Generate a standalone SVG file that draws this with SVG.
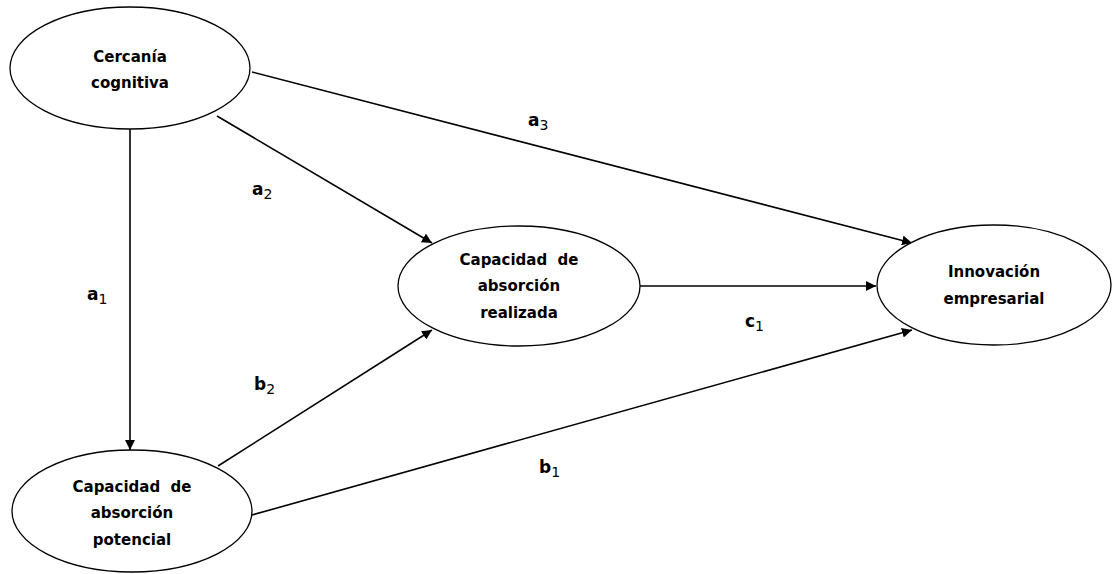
<svg xmlns="http://www.w3.org/2000/svg" width="1113" height="574" viewBox="0 0 1113 574">
<style>
.n{fill:#fff;stroke:#000;stroke-width:1.3}
.t{font-family:"DejaVu Sans",sans-serif;font-weight:bold;font-size:15px;fill:#000;text-anchor:middle;dominant-baseline:central}
.c{stroke:#000;stroke-width:1.6;fill:none;marker-end:url(#ah)}
.l{font-family:"DejaVu Sans",sans-serif;font-weight:bold;font-size:17px;fill:#000}
.s{font-weight:normal;font-size:14px}
</style>
<defs>
<marker id="ah" viewBox="0 0 10 10" refX="10" refY="5" markerWidth="10" markerHeight="10" markerUnits="userSpaceOnUse" orient="auto">
<path d="M0,0 L10,5 L0,10 Z" fill="#000"/>
</marker>
</defs>
<g id="connectors">
<line class="c" x1="130" y1="129" x2="130" y2="450"/>
<line class="c" x1="217" y1="116" x2="432" y2="243"/>
<line class="c" x1="252" y1="72" x2="912" y2="243"/>
<line class="c" x1="640" y1="286" x2="876" y2="286"/>
<line class="c" x1="218" y1="466" x2="432" y2="330"/>
<line class="c" x1="252" y1="515" x2="912" y2="330"/>
</g>
<g id="labels">
<text class="l" x="528" y="126">a<tspan class="s" dy="4">3</tspan></text>
<text class="l" x="252" y="195">a<tspan class="s" dy="4">2</tspan></text>
<text class="l" x="87" y="300">a<tspan class="s" dy="4">1</tspan></text>
<text class="l" x="254" y="390">b<tspan class="s" dy="4">2</tspan></text>
<text class="l" x="745" y="327">c<tspan class="s" dy="4">1</tspan></text>
<text class="l" x="539" y="473">b<tspan class="s" dy="4">1</tspan></text>
</g>
<g id="cercania">
<ellipse class="n" cx="130" cy="68" rx="120" ry="61"/>
<text class="t" x="130" y="57">Cercanía</text>
<text class="t" x="130" y="83">cognitiva</text>
</g>
<g id="realizada">
<ellipse class="n" cx="519" cy="286" rx="121" ry="60"/>
<text class="t" x="519" y="260">Capacidad&#160; de</text>
<text class="t" x="519" y="286">absorción</text>
<text class="t" x="519" y="313">realizada</text>
</g>
<g id="innovacion">
<ellipse class="n" cx="994" cy="285" rx="117" ry="60"/>
<text class="t" x="994" y="272">Innovación</text>
<text class="t" x="994" y="299">empresarial</text>
</g>
<g id="potencial">
<ellipse class="n" cx="132" cy="511" rx="120" ry="61"/>
<text class="t" x="132" y="487">Capacidad&#160; de</text>
<text class="t" x="132" y="513">absorción</text>
<text class="t" x="132" y="540">potencial</text>
</g>
</svg>
